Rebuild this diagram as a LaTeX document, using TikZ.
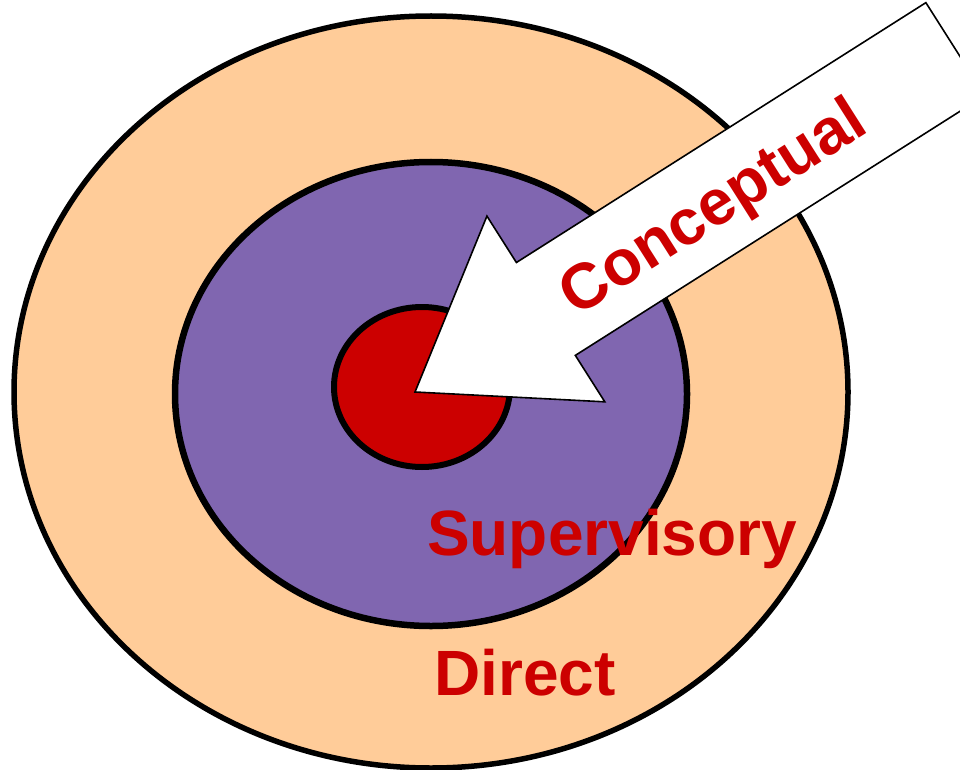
\documentclass[tikz,border=0pt]{standalone}
\usepackage{fontspec}
\setmainfont{Liberation Sans}
\usepackage{tikz}
\usetikzlibrary{positioning,calc}
\definecolor{peachring}{HTML}{FFCC99}
\definecolor{purplering}{HTML}{8066B0}
\definecolor{bullred}{HTML}{CC0000}
\tikzset{
  ring/.style={draw=black, line width=#1},
  ring/.default=6pt,
  levellabel/.style={text=bullred, font=\fontsize{64}{64}\selectfont\bfseries, inner sep=0pt},
  bigarrow/.style={draw=black, fill=white, line width=1.6pt, line join=miter}
}

\begin{document}
\begin{tikzpicture}[x=1pt, y=-1pt]
\useasboundingbox (0,0) rectangle (960,770);
\clip (0,0) rectangle (960,770);

\fill[white] (0,0) rectangle (960,770);
\draw[ring=5.5pt, fill=peachring] (431,392) ellipse [x radius=417pt, y radius=376pt];
\draw[ring=6.5pt, fill=purplering] (431,394) ellipse [x radius=256pt, y radius=232pt];
\draw[ring=6pt, fill=bullred] (422,387) ellipse [x radius=88pt, y radius=80pt];

\node[levellabel, anchor=base west] (supervisory) at (427,555) {Supervisory};
\node[levellabel, anchor=base west] (direct) at (434,695) {Direct};

% arrow pointing at the bull's eye
\begin{scope}[shift={(415,392)}, rotate=32.4]
\draw[bigarrow] (0,0) -- (155,110) -- (155,55) -- (640,55) -- (640,-55)
  -- (155,-55) -- (155,-110) -- cycle;
\node[levellabel, transform shape] (conceptual) at (350,7) {Conceptual};
\end{scope}
\end{tikzpicture}
\end{document}
